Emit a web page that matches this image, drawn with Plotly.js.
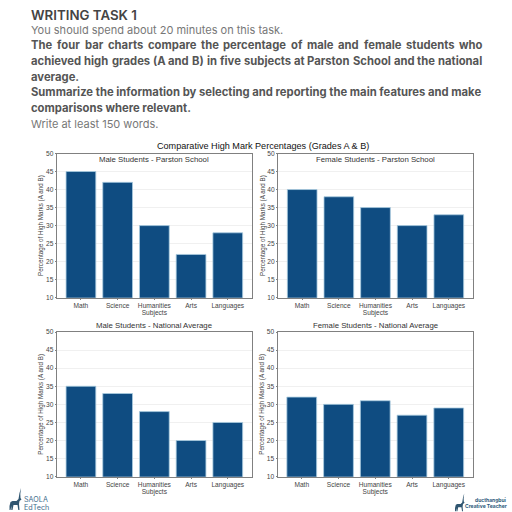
<!DOCTYPE html>
<html><head><meta charset="utf-8">
<script src="https://cdn.plot.ly/plotly-3.0.1.min.js"></script>
<style>html,body{margin:0;padding:0;background:#fff}#c{width:512px;height:512px}</style>
</head><body><div id="c"></div>
<script>
const subjects = ["Math","Science","Humanities","Arts","Languages"];
const maleSchool = [45,42,30,22,28];
const femaleSchool = [40,38,35,30,33];
const maleNational = [35,33,28,20,25];
const femaleNational = [32,30,31,27,29];
const panelTitles = ["Male Students - Parston School","Female Students - Parston School","Male Students - National Average","Female Students - National Average"];
const mainTitle = "Comparative High Mark Percentages (Grades A & B)";
const yLabel = "Percentage of High Marks (A and B)";
const xLabel = "Subjects";
const heading = "WRITING TASK 1";
const plainLines = [["You should spend about 20 minutes on this task.",30],["Write at least 150 words.",124]];
const justifiedLines = [
 ["The four bar charts compare the percentage of male and female students who",45.3],
 ["achieved high grades (A and B) in five subjects at Parston School and the national",61]];
const boldLines = [["average.",77],["Summarize the information by selecting and reporting the main features and make",92.3],["comparisons where relevant.",108]];

const W=512,H=512,fam='Inter, "Liberation Sans", sans-serif',chartFam='"Liberation Sans", Arial, sans-serif';
const px=v=>v/W, py=v=>1-v/H;
const panels=[[maleSchool,[56.7,252],[153.5,297.7]],[femaleSchool,[278,473],[153.5,297.7]],[maleNational,[56.7,252],[332,476.7]],[femaleNational,[277.5,473],[332,476.7]]];
const layout={width:W,height:H,margin:{l:0,r:0,t:0,b:0},paper_bgcolor:'#fff',plot_bgcolor:'#fff',showlegend:false,bargap:0.19,annotations:[],shapes:[]};
const data=[];
function note(t,x,y,size,color,weight,f,extra){layout.annotations.push(Object.assign({text:t,xref:'paper',yref:'paper',x:px(x),y:py(y),xanchor:'left',yanchor:'middle',showarrow:false,borderpad:0,font:{size:size,color:color,family:f||fam,weight:weight||400}},extra||{}));}
panels.forEach((p,i)=>{
 const n=i+1,xa='xaxis'+(i?n:''),ya='yaxis'+(i?n:'');
 data.push({type:'bar',x:subjects,y:p[0],xaxis:'x'+(i?n:''),yaxis:'y'+(i?n:''),marker:{color:'#0f4c81',line:{color:'#a9cbe0',width:0.8}},hoverinfo:'skip'});
 layout[xa]={domain:[px(p[1][0]),px(p[1][1])],anchor:'y'+(i?n:''),type:'category',categoryorder:'array',categoryarray:subjects,range:[-0.66,4.66],showline:true,mirror:true,linecolor:'#808080',linewidth:1,ticks:'outside',ticklen:1,tickcolor:'#808080',tickfont:{size:6.6,color:'#444',family:chartFam},showgrid:false,title:{text:xLabel,font:{size:6.6,color:'#444',family:chartFam},standoff:1},automargin:false};
 layout[ya]={domain:[py(p[2][1]),py(p[2][0])],anchor:'x'+(i?n:''),range:[10,50],tickvals:[10,15,20,25,30,35,40,45,50],showline:true,mirror:true,linecolor:'#808080',linewidth:1,ticks:'outside',ticklen:1,tickcolor:'#808080',tickfont:{size:6.6,color:'#444',family:chartFam},showgrid:true,gridcolor:'#f0f0f0',gridwidth:1,zeroline:false,title:{text:yLabel,font:{size:6.3,color:'#444',family:chartFam},standoff:1},automargin:false};
 note(panelTitles[i],(p[1][0]+p[1][1])/2,i<2?159.3:325.3,7.8,'#333',400,chartFam,{xanchor:'center'});
});
note(mainTitle,263,146.3,9.1,'#111',400,chartFam,{xanchor:'center'});
note(heading,30.3,15,13.3,'#444',600);
plainLines.forEach(l=>note(l[0],30.3,l[1],11,'#777',400));
boldLines.forEach(l=>note(l[0],30.3,l[1],11.25,'#555',700));
const ctx=document.createElement('canvas').getContext('2d');
ctx.font='700 11.25px Inter';
justifiedLines.forEach(l=>{
 const words=l[0].split(' '),left=30.3,right=481.5;
 const total=words.reduce((a,w)=>a+ctx.measureText(w).width,0);
 const gap=(right-left-total)/(words.length-1);let x=left;
 words.forEach(w=>{note(w,x,l[1],11.25,'#555',700);x+=ctx.measureText(w).width+gap;});
});
note("SAOLA",23,499.6,7.2,'#3f6d8c',400);
note("EdTech",23,507,7.2,'#3f6d8c',400);
note("ducthangbui",508,499.5,5,'#2d5a7b',700,fam,{xanchor:'right'});
note("Creative Teacher",508,506.3,5,'#2d5a7b',700,fam,{xanchor:'right'});
function deer(ox,oy,s){
 const pts=[[0,10],[1,6],[3,5],[7,5],[9,3],[10,-3],[11.5,-8],[10.8,-2],[11,2],[12,3.5],[10,5],[9.5,8],[10,14],[8.8,14],[8,9],[4,9],[3,14],[1.8,14],[2,10],[1,14],[0,14]];
 const d=pts.map((q,i)=>(i?'L':'M')+px(ox+q[0]*s)+','+py(oy+q[1]*s)).join(' ')+' Z';
 layout.shapes.push({type:'path',xref:'paper',yref:'paper',path:d,fillcolor:'#2f5570',line:{width:0}});
}
deer(9.5,496,1);
deer(455,500,0.8);
Plotly.newPlot('c',data,layout,{staticPlot:true,displayModeBar:false});
</script></body></html>
